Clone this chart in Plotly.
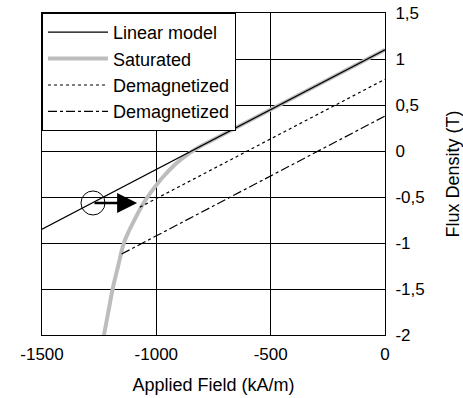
import plotly.graph_objects as go

# --- data ---
linear_H = [-1500, 0]
linear_B = [-0.85, 1.1]

sat_H = [-1229, -1210, -1191, -1167, -1142, -1120, -1098, -1057, -1006, -970, -911, -860, -809, -750, 0]
sat_B = [-2.0, -1.75, -1.5, -1.25, -1.0, -0.87, -0.76, -0.57, -0.39, -0.28, -0.13, -0.03, 0.05, 0.125, 1.1]

dem1_H = [-1072, 0]
dem1_B = [-0.61, 0.78]

dem2_H = [-1152, 0]
dem2_B = [-1.12, 0.38]

op_H = [-1277]
op_B = [-0.565]
arrow_end_H = -1084

x_ticks = [-1500, -1000, -500, 0]
x_ticktext = ["-1500", "-1000", "-500", "0"]
y_ticks = [-2, -1.5, -1, -0.5, 0, 0.5, 1, 1.5]
y_ticktext = ["-2", "-1,5", "-1", "-0,5", "0", "0,5", "1", "1,5"]

FONT = "Liberation Sans, Arial, sans-serif"

fig = go.Figure()
fig.add_trace(go.Scatter(x=sat_H, y=sat_B, mode="lines", name="Saturated",
                         line=dict(color="#bdbdbd", width=4, shape="spline", smoothing=1.0),
                         legendrank=2))
fig.add_trace(go.Scatter(x=linear_H, y=linear_B, mode="lines", name="Linear model",
                         line=dict(color="black", width=1.2), legendrank=1))
fig.add_trace(go.Scatter(x=dem1_H, y=dem1_B, mode="lines", name="Demagnetized",
                         line=dict(color="black", width=1.2, dash="dot"), legendrank=3))
fig.add_trace(go.Scatter(x=dem2_H, y=dem2_B, mode="lines", name="Demagnetized",
                         line=dict(color="black", width=1.2, dash="dashdot"), legendrank=4))
fig.add_trace(go.Scatter(x=op_H, y=op_B, mode="markers", showlegend=False,
                         marker=dict(symbol="circle-open", size=24, color="black", line=dict(width=1))))

fig.add_annotation(x=arrow_end_H, y=op_B[0], ax=op_H[0], ay=op_B[0],
                   xref="x", yref="y", axref="x", ayref="y", text="",
                   showarrow=True, arrowhead=2, arrowsize=1.6, arrowwidth=2.5, arrowcolor="black")

fig.update_layout(
    width=463, height=398,
    margin=dict(l=42, r=78, t=13, b=63, autoexpand=False),
    paper_bgcolor="white", plot_bgcolor="white",
    font=dict(family=FONT, size=17, color="black"),
    legend=dict(x=0, y=1, xanchor="left", yanchor="top", bgcolor="white",
                bordercolor="black", borderwidth=1, font=dict(size=18),
                itemwidth=60),
    xaxis=dict(range=[-1500, 0], tickvals=x_ticks, ticktext=x_ticktext,
               showgrid=True, gridcolor="black", gridwidth=1,
               showline=True, linecolor="black", linewidth=1, mirror=True,
               zeroline=False, ticks="", ticklabelstandoff=4, automargin=False,
               title=dict(text="Applied Field (kA/m)", font=dict(size=18), standoff=14)),
    yaxis=dict(range=[-2, 1.5], tickvals=y_ticks, ticktext=y_ticktext, side="right",
               showgrid=True, gridcolor="black", gridwidth=1,
               showline=True, linecolor="black", linewidth=1, mirror=True,
               zeroline=False, ticks="", ticklabelstandoff=6, automargin=False,
               title=dict(text="Flux Density (T)", font=dict(size=18), standoff=22)),
)

fig.write_html("out.html")
